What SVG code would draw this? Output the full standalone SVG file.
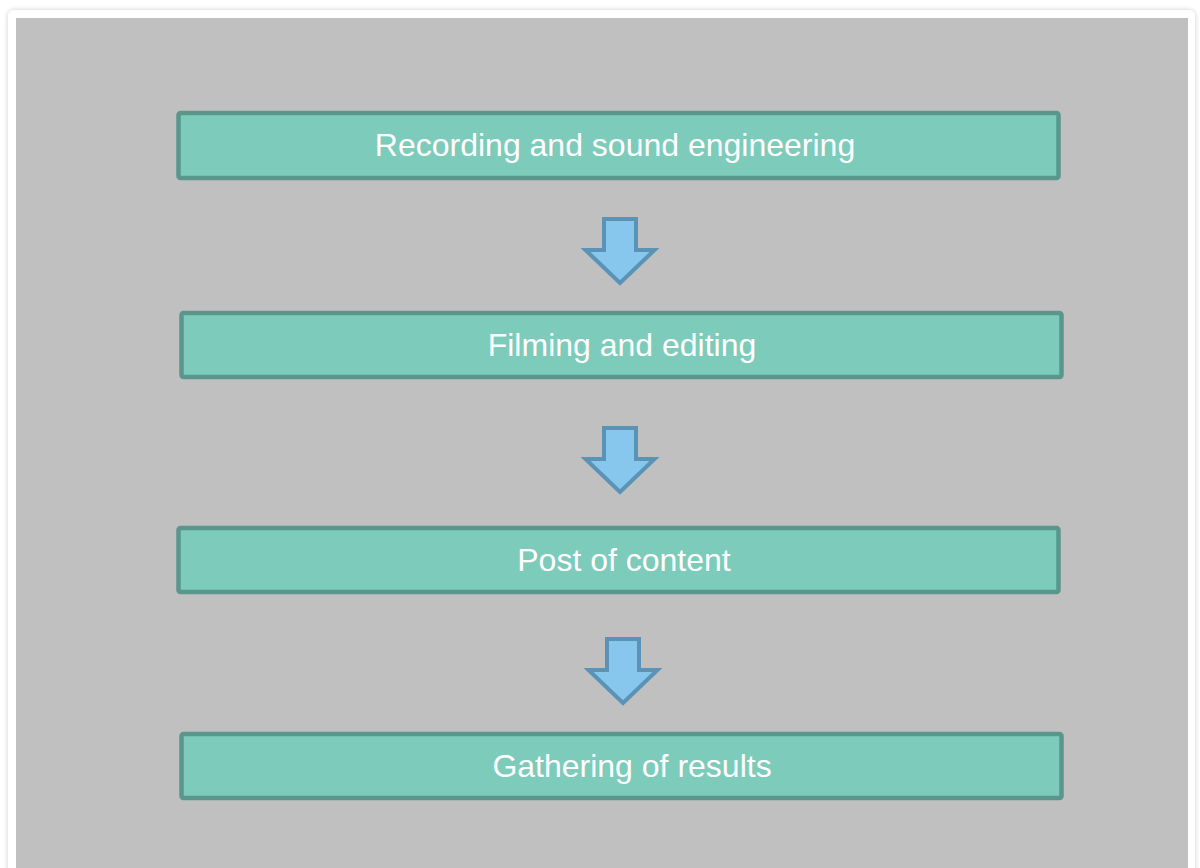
<svg xmlns="http://www.w3.org/2000/svg" width="1200" height="868" viewBox="0 0 1200 868">
  <defs>
    <filter id="cardShadow" x="-5%" y="-5%" width="110%" height="110%">
      <feGaussianBlur in="SourceAlpha" stdDeviation="2.5"/>
      <feOffset dx="0" dy="0" result="b"/>
      <feComponentTransfer><feFuncA type="linear" slope="0.2"/></feComponentTransfer>
      <feMerge><feMergeNode/><feMergeNode in="SourceGraphic"/></feMerge>
    </filter>
    <path id="downArrow" d="M -16 0 H 16 V 31 H 34.5 L 0 64 L -34.5 31 H -16 Z"/>
  </defs>
  <style>
    .step { fill: #7dcbbb; stroke: #5a968c; stroke-width: 4.5; }
    .label { fill: #ffffff; font-family: "Liberation Sans", Arial, sans-serif; font-size: 32px; text-anchor: middle; }
    .flow { fill: #87c7ee; stroke: #5b93b6; stroke-width: 4; stroke-linejoin: miter; }
  </style>

  <rect width="1200" height="868" fill="#ffffff"/>
  <!-- card with grey canvas -->
  <rect x="8" y="10" width="1187" height="880" rx="6" fill="#ffffff" filter="url(#cardShadow)"/>
  <rect x="16" y="18" width="1172" height="860" fill="#c0c0c0"/>

  <!-- connectors -->
  <g id="connectors">
    <use href="#downArrow" class="flow" transform="translate(620,219)"/>
    <use href="#downArrow" class="flow" transform="translate(620,428)"/>
    <use href="#downArrow" class="flow" transform="translate(623,639)"/>
  </g>

  <g id="node-recording">
    <rect class="step" x="178.5" y="113" width="880" height="65" rx="2"/>
    <text class="label" x="615" y="156">Recording and sound engineering</text>
  </g>
  <g id="node-filming">
    <rect class="step" x="181.5" y="313" width="880" height="64" rx="2"/>
    <text class="label" x="622" y="356">Filming and editing</text>
  </g>
  <g id="node-post">
    <rect class="step" x="178.5" y="528" width="880" height="64" rx="2"/>
    <text class="label" x="624" y="571">Post of content</text>
  </g>
  <g id="node-gathering">
    <rect class="step" x="181.5" y="734" width="880" height="64" rx="2"/>
    <text class="label" x="632" y="777">Gathering of results</text>
  </g>
</svg>
